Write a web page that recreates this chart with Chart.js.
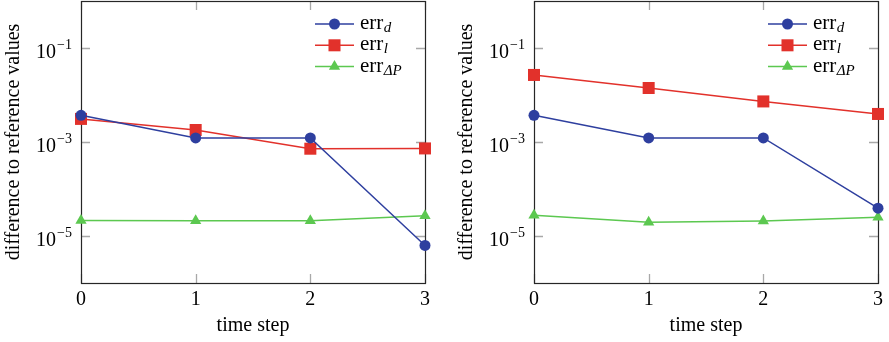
<!DOCTYPE html>
<html>
<head>
<meta charset="utf-8">
<script src="https://cdn.jsdelivr.net/npm/chart.js"></script>
<style>
  html, body { margin: 0; padding: 0; background: #fff; }
  #wrap { display: flex; width: 889px; height: 342px; }
  .panel { position: relative; height: 342px; }
</style>
</head>
<body>
<div id="wrap">
  <div class="panel" style="width:444px"><canvas id="left"></canvas></div>
  <div class="panel" style="width:445px"><canvas id="right"></canvas></div>
</div>
<script>
const steps = [0, 1, 2, 3];
const yTickExps = [-1, -3, -5];

const leftErrD = [3.7e-3, 1.22e-3, 1.22e-3, 6.3e-6];
const leftErrL = [3.1e-3, 1.8e-3, 7.2e-4, 7.3e-4];
const leftErrDP = [2.15e-5, 2.1e-5, 2.1e-5, 2.7e-5];

const rightErrD = [3.7e-3, 1.22e-3, 1.22e-3, 3.9e-5];
const rightErrL = [2.67e-2, 1.41e-2, 7.3e-3, 3.95e-3];
const rightErrDP = [2.75e-5, 1.95e-5, 2.08e-5, 2.5e-5];

const seriesSubs = ['d', 'l', 'ΔP'];
const seriesColors = ['#2e3f9f', '#e2312b', '#5cc850'];
const markerStyles = ['circle', 'rect', 'triangle'];
const markerRadius = [5.5, 8.5, 6.5];

(function () {
  const FONT = "'Liberation Serif', 'Times New Roman', serif";

  function drawMarker(ctx, style, x, y, r) {
    ctx.beginPath();
    if (style === 'circle') {
      ctx.arc(x, y, r, 0, Math.PI * 2);
    } else if (style === 'rect') {
      const s = r * Math.SQRT1_2;
      ctx.rect(x - s, y - s, 2 * s, 2 * s);
    } else {
      ctx.moveTo(x, y - r);
      ctx.lineTo(x + Math.sin(2 * Math.PI / 3) * r, y + r / 2);
      ctx.lineTo(x - Math.sin(2 * Math.PI / 3) * r, y + r / 2);
      ctx.closePath();
    }
    ctx.fill();
  }

  const framePlugin = {
    id: 'frame',
    beforeDatasetsDraw(chart) {
      const { ctx, chartArea: a, scales: { x, y } } = chart;
      ctx.save();
      ctx.strokeStyle = '#a8a8a8';
      ctx.lineWidth = 1.3;
      ctx.beginPath();
      steps.forEach(s => {
        const px = Math.round(x.getPixelForValue(s)) + 0.5;
        ctx.moveTo(px, a.top); ctx.lineTo(px, a.top + 9);
        ctx.moveTo(px, a.bottom); ctx.lineTo(px, a.bottom - 9);
      });
      yTickExps.forEach(e => {
        const py = Math.round(y.getPixelForValue(Math.pow(10, e))) + 0.5;
        ctx.moveTo(a.left, py); ctx.lineTo(a.left + 9, py);
        ctx.moveTo(a.right, py); ctx.lineTo(a.right - 9, py);
      });
      ctx.stroke();

      ctx.strokeStyle = '#262626';
      ctx.lineWidth = 1.2;
      ctx.strokeRect(Math.round(a.left) + 0.5, Math.round(a.top) + 0.5,
        Math.round(a.width), Math.round(a.height));

      // y tick labels as 10 with a raised exponent
      ctx.fillStyle = '#000';
      ctx.textAlign = 'right';
      ctx.textBaseline = 'alphabetic';
      yTickExps.forEach(e => {
        const py = y.getPixelForValue(Math.pow(10, e));
        const sup = '\u2212' + Math.abs(e);
        ctx.font = '14px ' + FONT;
        const supW = ctx.measureText(sup).width;
        const right = a.left - 9;
        ctx.fillText(sup, right, py + 1);
        ctx.font = '20px ' + FONT;
        ctx.fillText('10', right - supW - 1, py + 10);
      });
      ctx.restore();
    }
  };

  const legendPlugin = {
    id: 'errLegend',
    afterDraw(chart) {
      const { ctx, chartArea: a } = chart;
      ctx.save();
      seriesSubs.forEach((sub, i) => {
        const ly = 24 + i * 21.3;
        const x0 = a.right - 110;
        ctx.strokeStyle = seriesColors[i];
        ctx.fillStyle = seriesColors[i];
        ctx.lineWidth = 1.5;
        ctx.beginPath();
        ctx.moveTo(x0, ly); ctx.lineTo(x0 + 39, ly);
        ctx.stroke();
        drawMarker(ctx, markerStyles[i], x0 + 19.5, ly, markerRadius[i]);

        ctx.fillStyle = '#000';
        ctx.textAlign = 'left';
        ctx.textBaseline = 'alphabetic';
        ctx.font = '21px ' + FONT;
        const tx = a.right - 65;
        ctx.fillText('err', tx, ly + 5);
        const w = ctx.measureText('err').width;
        ctx.font = 'italic 15px ' + FONT;
        ctx.fillText(sub, tx + w + 0.5, ly + 8);
      });
      ctx.restore();
    }
  };

  function makePanel(canvasId, values, yAxisWidth, pad) {
    const datasets = values.map((vals, i) => ({
      label: 'err_' + seriesSubs[i],
      data: steps.map((s, j) => ({ x: s, y: vals[j] })),
      borderColor: seriesColors[i],
      backgroundColor: seriesColors[i],
      borderWidth: 1.5,
      pointStyle: markerStyles[i],
      pointRadius: markerRadius[i],
      pointBorderWidth: 0,
      pointBackgroundColor: seriesColors[i],
      tension: 0,
      clip: false
    }));

    new Chart(document.getElementById(canvasId), {
      type: 'line',
      data: { datasets },
      plugins: [framePlugin, legendPlugin],
      options: {
        responsive: true,
        maintainAspectRatio: false,
        animation: false,
        layout: { padding: pad, autoPadding: false },
        plugins: { legend: { display: false }, tooltip: { enabled: false } },
        scales: {
          x: {
            type: 'linear',
            min: 0,
            max: 3,
            grid: { display: false, drawTicks: false, tickLength: 0 },
            border: { display: false },
            ticks: { stepSize: 1, color: '#000', padding: 5, font: { family: FONT, size: 20 } },
            title: { display: true, text: 'time step', color: '#000', padding: { top: 0, bottom: 4 }, font: { family: FONT, size: 20 } },
            afterFit: s => { s.height = 59; }
          },
          y: {
            type: 'logarithmic',
            min: 1e-6,
            max: 1,
            grid: { display: false },
            border: { display: false },
            ticks: { display: false },
            title: { display: true, text: 'difference to reference values', color: '#000', padding: { top: 2, bottom: 0 }, font: { family: FONT, size: 20 } },
            afterFit: s => { s.width = yAxisWidth; }
          }
        }
      }
    });
  }

  makePanel('left', [leftErrD, leftErrL, leftErrDP], 81, { top: 1, right: 19, left: 0, bottom: 0 });
  makePanel('right', [rightErrD, rightErrL, rightErrDP], 81, { top: 1, right: 11, left: 9, bottom: 0 });
})();
</script>
</body>
</html>
